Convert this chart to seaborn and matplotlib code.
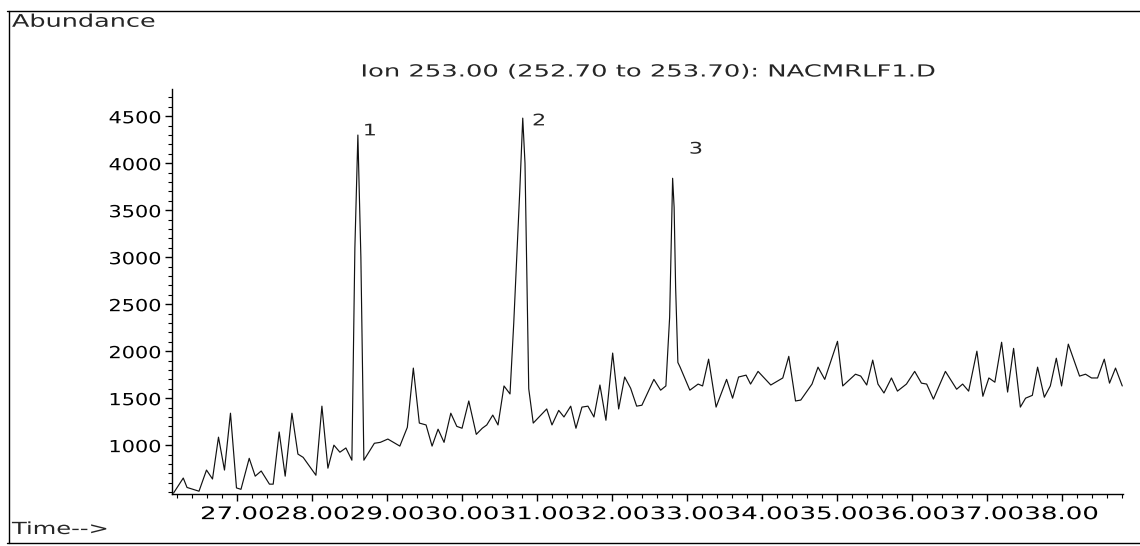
import pandas as pd
import seaborn as sns
import matplotlib.pyplot as plt
from matplotlib.lines import Line2D
from matplotlib.patheffects import AbstractPathEffect
from matplotlib.transforms import Affine2D
from matplotlib.ticker import MultipleLocator, FixedLocator, FormatStrFormatter

# Ion chromatogram, m/z 253
time_min = [
    26.15, 26.28, 26.33, 26.49, 26.59, 26.67, 26.75, 26.83, 26.91, 26.99,
    27.05, 27.16, 27.24, 27.32, 27.43, 27.48, 27.56, 27.64, 27.73, 27.81,
    27.88, 28.05, 28.13, 28.21, 28.29, 28.37, 28.45, 28.53, 28.57, 28.61,
    28.65, 28.69, 28.83, 28.91, 29.01, 29.17, 29.27, 29.35, 29.43, 29.52,
    29.60, 29.68, 29.76, 29.85, 29.93, 30.00, 30.09, 30.19, 30.27, 30.33,
    30.41, 30.48, 30.56, 30.64, 30.69, 30.73, 30.77, 30.81, 30.84, 30.87,
    30.89, 30.95, 31.13, 31.20, 31.29, 31.36, 31.45, 31.52, 31.60, 31.68,
    31.76, 31.84, 31.92, 32.01, 32.09, 32.17, 32.25, 32.33, 32.40, 32.56,
    32.65, 32.72, 32.77, 32.81, 32.83, 32.85, 32.88, 32.91, 33.04, 33.15,
    33.21, 33.29, 33.39, 33.53, 33.61, 33.69, 33.79, 33.85, 33.95, 34.12,
    34.28, 34.36, 34.45, 34.52, 34.67, 34.75, 34.84, 35.01, 35.08, 35.25,
    35.32, 35.40, 35.48, 35.55, 35.63, 35.73, 35.81, 35.93, 36.04, 36.13,
    36.20, 36.29, 36.45, 36.60, 36.68, 36.76, 36.87, 36.95, 37.03, 37.11,
    37.20, 37.28, 37.36, 37.45, 37.52, 37.61, 37.68, 37.77, 37.85, 37.93,
    38.00, 38.09, 38.24, 38.32, 38.40, 38.48, 38.57, 38.64, 38.72, 38.81,
]
abundance = [
    490, 650, 550, 510, 735, 640, 1085, 735, 1340, 545,
    530, 860, 670, 725, 585, 585, 1140, 670, 1340, 905,
    870, 680, 1415, 755, 1000, 925, 970, 840, 3100, 4300,
    3000, 840, 1020, 1030, 1065, 990, 1190, 1820, 1235, 1215,
    990, 1170, 1030, 1340, 1200, 1180, 1470, 1115, 1180, 1215,
    1320, 1215, 1630, 1545, 2300, 3000, 3700, 4480, 4000, 2600,
    1600, 1235, 1385, 1215, 1370, 1300, 1415, 1180, 1405, 1415,
    1300, 1640, 1265, 1980, 1385, 1725, 1605, 1415, 1425, 1700,
    1585, 1630, 2360, 3840, 3530, 2680, 1880, 1830, 1585, 1650,
    1630, 1915, 1405, 1700, 1500, 1725, 1745, 1650, 1785, 1640,
    1715, 1945, 1470, 1480, 1650, 1830, 1700, 2105, 1630, 1755,
    1735, 1640, 1905, 1650, 1555, 1715, 1575, 1650, 1785, 1660,
    1650, 1490, 1785, 1595, 1650, 1575, 2000, 1520, 1715, 1670,
    2095, 1565, 2030, 1405, 1500, 1530, 1830, 1510, 1630, 1925,
    1630, 2075, 1735, 1755, 1715, 1715, 1915, 1660, 1820, 1630,
]

peak_labels = ['1', '2', '3']
peak_times = [28.61, 30.81, 32.81]
# where each label sits relative to its apex, in points
label_offsets = [(4, 3), (7, -2), (12, 21)]

title = 'Ion 253.00 (252.70 to 253.70): NACMRLF1.D'
x_ticks = [27, 28, 29, 30, 31, 32, 33, 34, 35, 36, 37, 38]
y_ticks = [1000, 1500, 2000, 2500, 3000, 3500, 4000, 4500]


class Widen(AbstractPathEffect):
    # the printout font is much wider than anything installed, so stretch the glyphs
    def __init__(self, sx=1.5, anchor='center'):
        super().__init__()
        self.sx = sx
        self.anchor = anchor

    def draw_path(self, renderer, gc, tpath, affine, rgbFace=None):
        ext = tpath.get_extents(affine)
        if self.anchor == 'left':
            cx = ext.x0
        elif self.anchor == 'right':
            cx = ext.x1
        else:
            cx = (ext.x0 + ext.x1) / 2
        affine = affine + Affine2D().translate(-cx, 0).scale(self.sx, 1).translate(cx, 0)
        renderer.draw_path(gc, tpath, affine, rgbFace)


sns.set_style('ticks')
plt.rcParams['font.family'] = ['DejaVu Sans']

df = pd.DataFrame({'time': time_min, 'abundance': abundance})

fig = plt.figure(figsize=(11.4, 5.46), dpi=100)
ax = fig.add_axes([0.1509, 0.0952, 0.8342, 0.7418])

sns.lineplot(data=df, x='time', y='abundance', color='#111111', linewidth=0.85, ax=ax)

ax.set_xlim(26.13, 38.82)
ax.set_ylim(480, 4790)
ax.set_xlabel('')
ax.set_ylabel('')
sns.despine(ax=ax)
for side in ['left', 'bottom']:
    ax.spines[side].set_linewidth(1.0)
    ax.spines[side].set_color('black')

ax.xaxis.set_major_locator(FixedLocator(x_ticks))
ax.xaxis.set_major_formatter(FormatStrFormatter('%.2f'))
ax.xaxis.set_minor_locator(MultipleLocator(0.2))
ax.yaxis.set_major_locator(FixedLocator(y_ticks))
ax.yaxis.set_minor_locator(MultipleLocator(100))
ax.tick_params(which='major', direction='out', length=5, width=1, colors='black',
               labelsize=12.5, pad=3)
ax.tick_params(which='minor', direction='out', length=3, width=0.8, colors='black')
ax.tick_params(axis='y', labelsize=12)

for lab in ax.get_xticklabels():
    lab.set_path_effects([Widen(1.5)])
for lab in ax.get_yticklabels():
    lab.set_path_effects([Widen(1.25, 'right')])

t = ax.set_title(title, fontsize=12, pad=9)
t.set_path_effects([Widen(1.55)])

for lab, pt, off in zip(peak_labels, peak_times, label_offsets):
    i = time_min.index(pt)
    a = ax.annotate(lab, xy=(pt, abundance[i]), xytext=off, textcoords='offset points',
                    fontsize=11.5, ha='left', va='center')
    a.set_path_effects([Widen(1.4, 'left')])

ab = fig.text(0.0105, 0.951, 'Abundance', fontsize=12.5, ha='left', va='baseline')
ab.set_path_effects([Widen(1.47, 'left')])
tm = fig.text(0.0105, 0.022, 'Time-->', fontsize=12, ha='left', va='baseline')
tm.set_path_effects([Widen(1.45, 'left')])

# printout frame
fig.add_artist(Line2D([0.006, 1.0], [0.980, 0.980], color='black', lw=1.0))
fig.add_artist(Line2D([0.008, 0.008], [0.006, 0.980], color='black', lw=1.0))
fig.add_artist(Line2D([0.006, 1.0], [0.006, 0.006], color='black', lw=1.0))

fig.savefig('out.png', dpi=100)
